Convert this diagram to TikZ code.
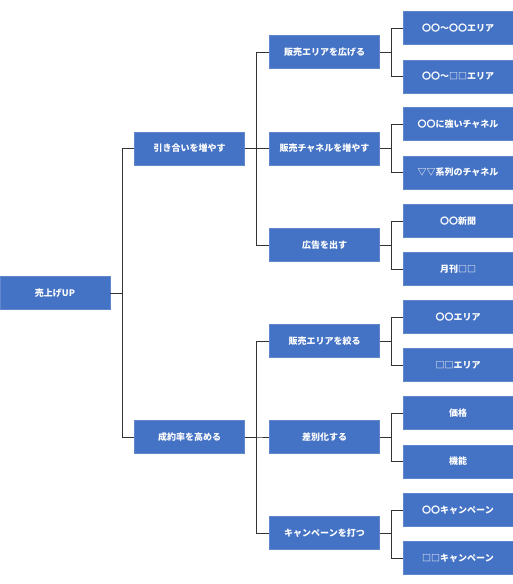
\documentclass[tikz,border=0pt]{standalone}
\usepackage{fontspec}
\newfontfamily\jpfont{Noto Sans CJK JP}
\usepackage{tikz}
\usetikzlibrary{positioning}

\definecolor{boxblue}{HTML}{4472C4}

\begin{document}
\begin{tikzpicture}[x=1pt,y=-1pt,semithick]
\tikzstyle{every node}=[fill=boxblue,draw=boxblue!85!white,text=white,minimum width=110pt,minimum height=33pt,inner sep=0pt,font=\jpfont\bfseries\fontsize{9}{10}\selectfont]
\tikzstyle{link}=[draw=black!80,line width=0.8pt]
\useasboundingbox (0,0) rectangle (513,584);
\node (root) at (55,293) {売上げUP};
\node (hiki) at (189.5,148.5) {引き合いを増やす};
\node (seiy) at (189.5,437) {成約率を高める};
\node (hiro) at (324.5,52) {販売エリアを広げる};
\node (chan) at (324.5,148.5) {販売チャネルを増やす};
\node (koko) at (324.5,245) {広告を出す};
\node (shib) at (324.5,341) {販売エリアを絞る};
\node (sabe) at (324.5,437) {差別化する};
\node (camp) at (324.5,533) {キャンペーンを打つ};
\node (a1) at (458,28) {〇〇～〇〇エリア};
\node (a2) at (458,76.5) {〇〇～□□エリア};
\node (c1) at (458,124) {〇〇に強いチャネル};
\node (c2) at (458,172.5) {▽▽系列のチャネル};
\node (k1) at (458,221) {〇〇新聞};
\node (k2) at (458,269) {月刊□□};
\node (s1) at (458,317) {〇〇エリア};
\node (s2) at (458,365) {□□エリア};
\node (d1) at (458,413) {価格};
\node (d2) at (458,461.5) {機能};
\node (p1) at (458,510) {〇〇キャンペーン};
\node (p2) at (458,558) {□□キャンペーン};
\foreach \p/\c in {root/hiki,root/seiy,hiki/hiro,hiki/chan,hiki/koko,seiy/shib,seiy/sabe,seiy/camp,
  hiro/a1,hiro/a2,chan/c1,chan/c2,koko/k1,koko/k2,shib/s1,shib/s2,sabe/d1,sabe/d2,camp/p1,camp/p2}
  \draw[link] (\p.east) -- ++(12,0) |- (\c.west);
\end{tikzpicture}
\end{document}
